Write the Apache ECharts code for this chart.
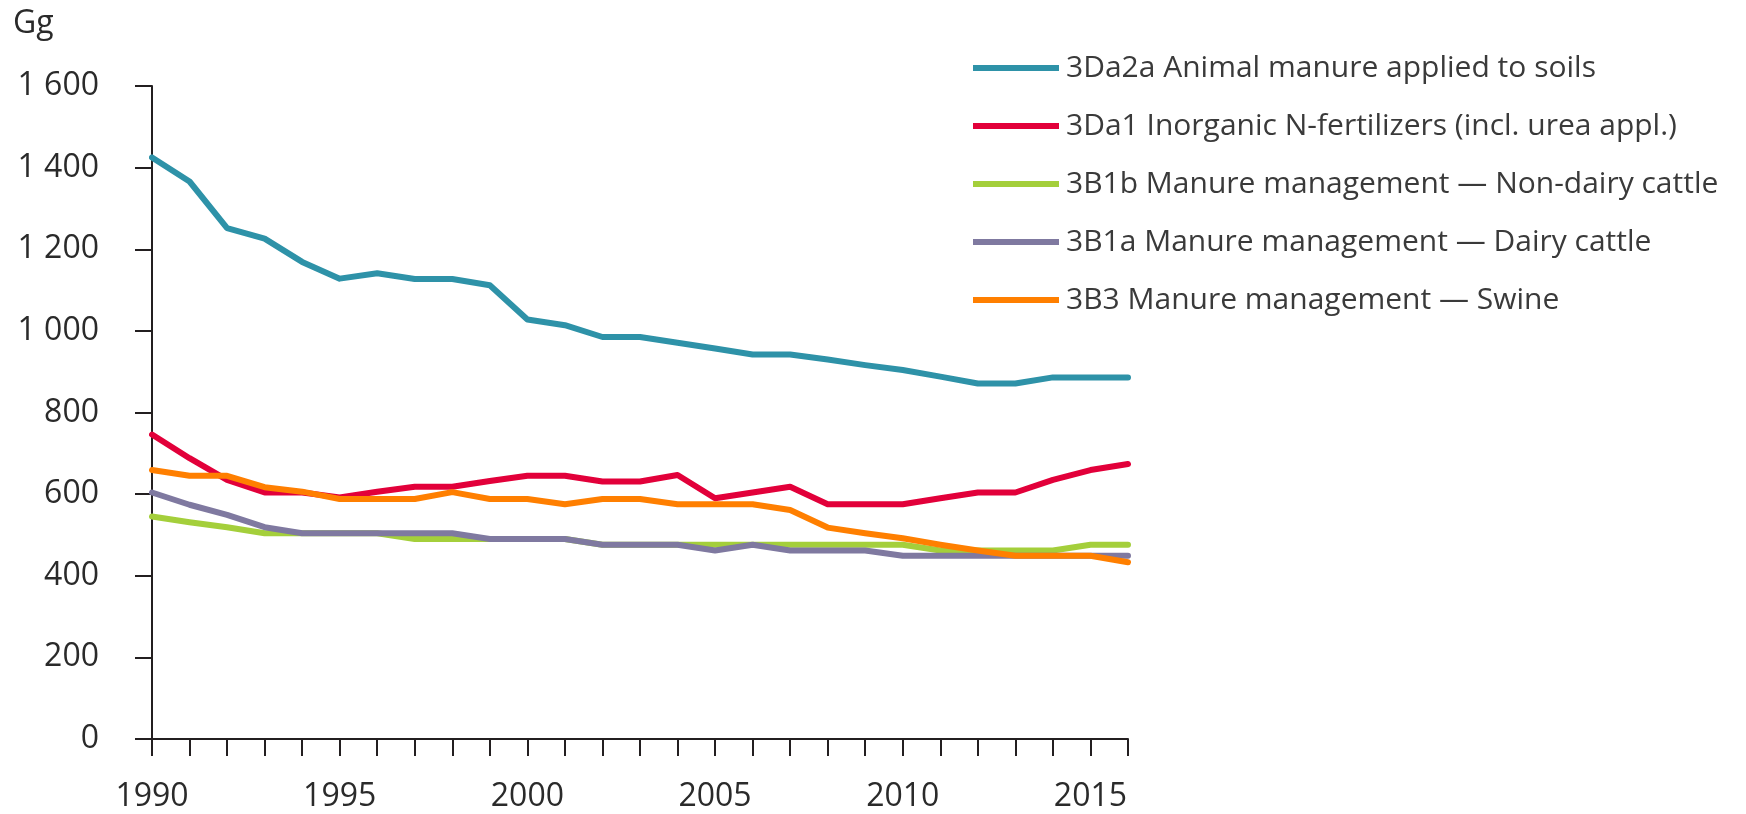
<!DOCTYPE html>
<html>
<head>
<meta charset="utf-8">
<title>Gg</title>
<script src="https://cdn.jsdelivr.net/npm/echarts@6/dist/echarts.min.js"></script>
<style>
  html, body { margin: 0; padding: 0; background: #ffffff; }
  #chart { width: 1746px; height: 814px; }
</style>
</head>
<body>
<div id="chart"></div>
<script>
// Years on the category axis
const years = ['1990','1991','1992','1993','1994','1995','1996','1997','1998','1999',
  '2000','2001','2002','2003','2004','2005','2006','2007','2008','2009',
  '2010','2011','2012','2013','2014','2015','2016'];

// Series names (legend order)
const seriesNames = [
  '3Da2a Animal manure applied to soils',
  '3Da1 Inorganic N-fertilizers (incl. urea appl.)',
  '3B1b Manure management \u2014 Non-dairy cattle',
  '3B1a Manure management \u2014 Dairy cattle',
  '3B3 Manure management \u2014 Swine'
];

// Values in Gg
const animalManureSoils = [1425,1366,1252,1226,1169,1128,1141,1127,1127,1112,
  1028,1014,985,985,971,957,942,942,930,916,904,888,871,871,886,886,886];
const inorganicFertilizers = [746,688,635,604,604,592,606,618,618,632,
  645,645,631,631,647,590,604,618,575,575,575,590,604,604,635,659,674];
const nonDairyCattle = [545,531,519,504,504,504,504,490,490,490,
  490,490,476,476,476,476,476,476,476,476,476,462,462,462,462,476,476];
const dairyCattle = [604,574,549,519,504,504,504,504,504,490,
  490,490,476,476,476,462,476,462,462,462,449,449,449,449,449,449,449];
const swine = [659,645,645,617,606,588,588,588,605,588,
  588,575,588,588,575,575,575,561,518,504,492,476,462,449,449,449,433];

// Y-axis ticks
const yTicks = [0, 200, 400, 600, 800, 1000, 1200, 1400, 1600];

const seriesValues = [animalManureSoils, inorganicFertilizers, nonDairyCattle, dairyCattle, swine];
const colors = ['#2e92a8', '#e2003a', '#a4cf3b', '#7f79a0', '#ff7f00'];

const fontFamily = '"Open Sans", "Noto Sans", sans-serif';
const textColor = '#2a2a2a';
const axisColor = '#231f20';

const chart = echarts.init(document.getElementById('chart'), null, { renderer: 'canvas' });

const option = {
  backgroundColor: '#ffffff',
  animation: false,
  color: colors,
  textStyle: { fontFamily: fontFamily },
  graphic: [{
    type: 'text',
    left: 13,
    top: 8,
    style: { text: 'Gg', fontSize: 32, fontFamily: fontFamily, fill: textColor }
  }],
  legend: {
    orient: 'vertical',
    left: 968,
    top: 48,
    itemWidth: 86,
    itemHeight: 6,
    itemGap: 28,
    icon: 'rect',
    data: seriesNames,
    textStyle: {
      fontSize: 30,
      fontFamily: fontFamily,
      color: '#3a3a3a',
      lineHeight: 30,
      padding: [0, 0, 0, 2]
    }
  },
  grid: {
    left: 152,
    right: 618,
    top: 86,
    bottom: 75,
    containLabel: false
  },
  xAxis: {
    type: 'category',
    data: years,
    boundaryGap: false,
    axisLine: { lineStyle: { color: axisColor, width: 2 } },
    axisTick: {
      show: true,
      interval: 0,
      length: 17,
      lineStyle: { color: axisColor, width: 2 }
    },
    axisLabel: {
      interval: function (index) { return index % 5 === 0; },
      fontSize: 32,
      fontFamily: fontFamily,
      color: textColor,
      margin: 42
    },
    splitLine: { show: false }
  },
  yAxis: {
    type: 'value',
    min: yTicks[0],
    max: yTicks[yTicks.length - 1],
    interval: 200,
    axisLine: { show: true, lineStyle: { color: axisColor, width: 2 } },
    axisTick: { show: true, length: 17, lineStyle: { color: axisColor, width: 2 } },
    axisLabel: {
      fontSize: 32,
      fontFamily: fontFamily,
      color: textColor,
      margin: 53,
      formatter: function (v) {
        return String(v).replace(/\B(?=(\d{3})+(?!\d))/g, ' ');
      }
    },
    splitLine: { show: false }
  },
  series: seriesNames.map(function (name, i) {
    return {
      name: name,
      type: 'line',
      data: seriesValues[i],
      symbol: 'none',
      lineStyle: { width: 6, color: colors[i], cap: 'round', join: 'round' },
      itemStyle: { color: colors[i] },
      z: 2 + i
    };
  })
};

chart.setOption(option);
</script>
</body>
</html>
